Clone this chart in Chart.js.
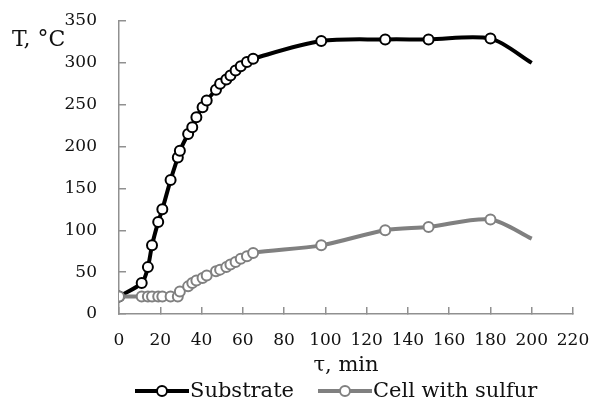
<!DOCTYPE html>
<html>
<head>
<meta charset="utf-8">
<script src="https://cdn.jsdelivr.net/npm/chart.js@4"></script>
<style>
  html, body { margin: 0; background: #fff; }
  #wrap { width: 593px; height: 403px; }
</style>
</head>
<body>
<div id="wrap"><canvas id="tempChart"></canvas></div>
<script>
// time, min
const times = [0, 11, 14, 16, 19, 21, 25, 28.5, 29.5, 33.5, 35.5, 37.5, 40.5, 42.5, 47, 49, 52, 54, 56.5, 59, 62, 65, 98, 129, 150, 180, 200];
// temperature, °C
const substrate = [21, 37, 56, 82, 110, 125, 160, 187, 195, 215, 223, 235, 247, 255, 268, 275, 280, 285, 291, 296, 301, 305, 326, 328, 328, 329, 300];
const sulfur = [21, 21, 21, 21, 21, 21, 21, 21, 27, 33, 37, 40, 43, 46, 51, 53, 56, 59, 62, 66, 69, 73, 82, 100, 104, 113, 90];
const seriesNames = ['Substrate', 'Cell with sulfur'];
const seriesColors = ['#000000', '#808080'];

const serif = '"DejaVu Serif", serif';
Chart.defaults.font.family = serif;
Chart.defaults.color = '#111';

// y unit in the top left corner
const unitLabel = {
    id: 'unitLabel',
    afterDraw(chart) {
        const g = chart.ctx;
        g.save();
        g.font = '22px ' + serif;
        g.fillStyle = '#111';
        g.textBaseline = 'alphabetic';
        g.fillText('T, °C', 12, 46);
        g.restore();
    }
};

// legend under the axis title: line with a hollow circle, then the name
const lineLegend = {
    id: 'lineLegend',
    afterDraw(chart) {
        const g = chart.ctx;
        const y = 391;
        let x = 135;
        g.save();
        g.font = '21px ' + serif;
        g.textBaseline = 'middle';
        seriesNames.forEach((name, i) => {
            const color = seriesColors[i];
            g.strokeStyle = color;
            g.lineWidth = 4;
            g.beginPath();
            g.moveTo(x, y);
            g.lineTo(x + 54, y);
            g.stroke();
            g.fillStyle = '#fff';
            g.lineWidth = 2;
            g.beginPath();
            g.arc(x + 27, y, 5, 0, Math.PI * 2);
            g.fill();
            g.stroke();
            g.fillStyle = '#111';
            g.fillText(name, x + 55, y + 1);
            x += 55 + g.measureText(name).width + 24;
        });
        g.restore();
    }
};

function makeSeries(values, i) {
    return {
        label: seriesNames[i],
        data: times.map((t, k) => ({ x: t, y: values[k] })),
        borderColor: seriesColors[i],
        borderWidth: 4,
        tension: 0.3,
        pointRadius: ctx => ctx.dataIndex === times.length - 1 ? 0 : 5,
        pointBorderWidth: 2,
        pointBorderColor: seriesColors[i],
        pointBackgroundColor: '#fff'
    };
}

const ctx = document.getElementById('tempChart').getContext('2d');
const tempChart = new Chart(ctx, {
    type: 'line',
    data: {
        datasets: [makeSeries(sulfur, 1), makeSeries(substrate, 0)]
    },
    options: {
        responsive: true,
        maintainAspectRatio: false,
        animation: false,
        layout: { padding: { left: 0, right: 20, top: 21, bottom: 25 } },
        plugins: {
            tooltip: { enabled: false },
            legend: { display: false }
        },
        scales: {
            x: {
                type: 'linear',
                min: 0,
                max: 220,
                ticks: { stepSize: 20, padding: 23, font: { size: 17 } },
                grid: { drawOnChartArea: false, tickLength: -7, color: '#909090', lineWidth: 1.5 },
                border: { color: '#909090', width: 1.5 },
                title: { display: true, text: 'τ, min', font: { size: 21 }, padding: { top: 3, bottom: 0 } },
                afterFit(scale) {
                    scale.height = 64;
                    scale.paddingLeft = 0;
                    scale.paddingRight = 0;
                }
            },
            y: {
                min: 0,
                max: 350,
                ticks: { stepSize: 50, padding: 29, font: { size: 17 } },
                grid: { drawOnChartArea: false, tickLength: -7, color: '#909090', lineWidth: 1.5 },
                border: { color: '#909090', width: 1.5 },
                afterFit(scale) {
                    scale.width = 119;
                    scale.paddingTop = 0;
                    scale.paddingBottom = 0;
                }
            }
        }
    },
    plugins: [unitLabel, lineLegend]
});
</script>
</body>
</html>
